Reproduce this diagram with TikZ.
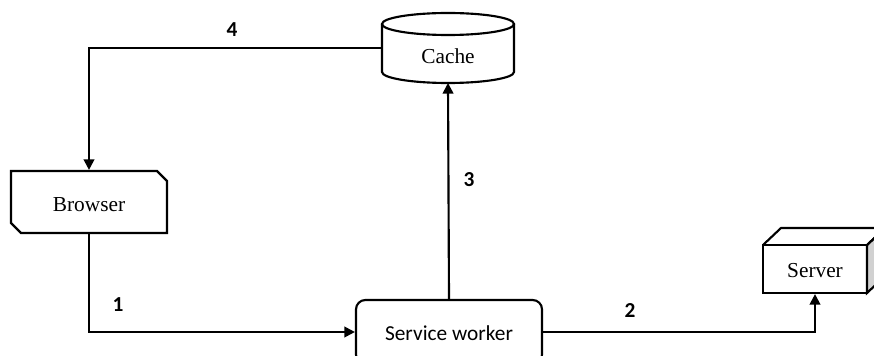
\documentclass[tikz,border=0pt]{standalone}
\usepackage{fontspec}
\setmainfont{Liberation Serif}
\newfontfamily\calib{Carlito}
\usetikzlibrary{arrows.meta}
\begin{document}
\begin{tikzpicture}[x=0.75pt,y=-0.75pt,
  line width=1.6pt, line join=miter,
  conn/.style={-{Triangle[length=8pt,width=8pt]}, line width=1.6pt},
  lbl/.style={font=\calib\bfseries\fontsize{16}{19}\selectfont, inner sep=0pt},
  serif/.style={font=\fontsize{16}{19}\selectfont, inner sep=0pt},
  sans/.style={font=\calib\fontsize{16}{19}\selectfont, inner sep=0pt}]
\useasboundingbox (0,0) rectangle (874,356);
\begin{scope}
\clip (0,0) rectangle (874,356);
% Browser
\node[serif, minimum width=156*0.75pt, minimum height=62*0.75pt] (browser) at (89,202) {};
\draw (11,171) -- (157,171) -- (167,181) -- (167,233) -- (21,233) -- (11,223) -- cycle;
\node[serif] at (89,205) {Browser};
% Cache
\node[serif, minimum width=132*0.75pt, minimum height=70*0.75pt] (cache) at (448,48) {};
\draw (382,24) -- (382,72) arc[start angle=180, end angle=0, x radius=66, y radius=11] -- (514,24);
\draw (448,24) ellipse[x radius=66, y radius=11];
\node[serif] at (448,56) {Cache};
% Service worker
\node[sans, draw, rounded corners=7pt, minimum width=186*0.75pt, minimum height=64*0.75pt] (sw) at (449,332) {};
\node[sans] at (449,333) {Service worker};
% Server
\draw[fill=black!18] (867,245) -- (885,228) -- (885,276) -- (867,293) -- cycle;
\draw (763,245) -- (781,228) -- (885,228) -- (867,245);
\node[serif, draw, minimum width=104*0.75pt, minimum height=48*0.75pt] (server) at (815,269) {};
\node[serif] at (815,271) {Server};
\end{scope}
% connectors
\coordinate (c4a) at (cache.west);
\draw[conn] (c4a) -| (browser.north);
\draw[conn] (browser.south) |- (sw.west);
\draw[conn] (sw.east) -| (server.south);
\draw[conn] (sw.north) -- (448,83);
% labels
\node[lbl] (l4) at (232,30) {4};
\node[lbl] (l3) at (469,180) {3};
\node[lbl] (l1) at (118,305) {1};
\node[lbl] (l2) at (630,311) {2};
\end{tikzpicture}
\end{document}
